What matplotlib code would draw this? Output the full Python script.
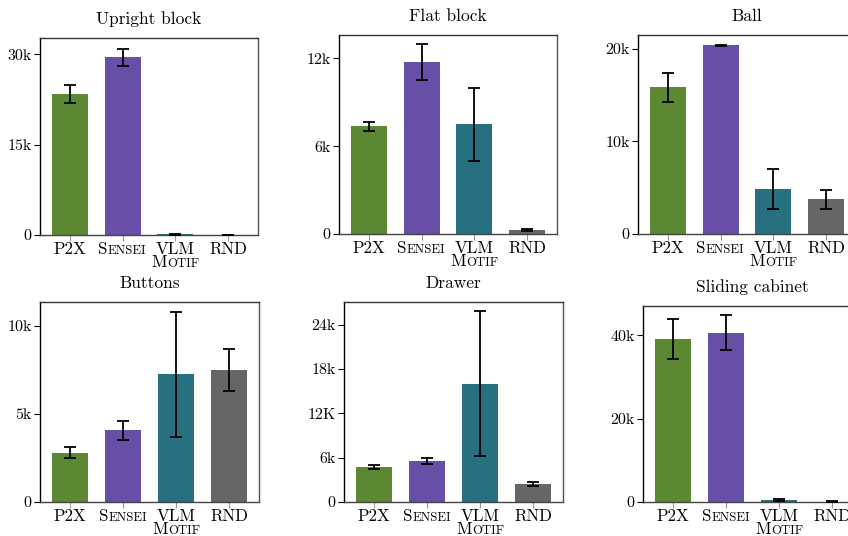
import numpy as np
import matplotlib.pyplot as plt
from matplotlib.offsetbox import TextArea, HPacker, VPacker, AnnotationBbox

plt.rcParams['font.family'] = 'serif'
plt.rcParams['font.serif'] = ['cmr10', 'DejaVu Serif']
plt.rcParams['mathtext.fontset'] = 'cm'
plt.rcParams['axes.formatter.use_mathtext'] = True

# --- data ---
titles = ["Upright block", "Flat block", "Ball", "Buttons", "Drawer", "Sliding cabinet"]
methods = ["P2X", "Sensei", "VLM Motif", "RND"]
colors = ["#5c8733", "#674ea7", "#26707f", "#666666"]

upright_mean = [23.4, 29.5, 0.12, 0.05]
upright_err = [1.55, 1.45, 0.08, 0.03]
flat_mean = [7.37, 11.74, 7.5, 0.27]
flat_err = [0.3, 1.22, 2.48, 0.07]
ball_mean = [15.84, 20.4, 4.88, 3.75]
ball_err = [1.56, 0.05, 2.14, 1.05]
buttons_mean = [2.8, 4.07, 7.24, 7.48]
buttons_err = [0.32, 0.55, 3.55, 1.18]
drawer_mean = [4.7, 5.52, 15.97, 2.4]
drawer_err = [0.3, 0.38, 9.8, 0.28]
sliding_mean = [39.1, 40.55, 0.4, 0.1]
sliding_err = [4.9, 4.2, 0.2, 0.05]

means = [upright_mean, flat_mean, ball_mean, buttons_mean, drawer_mean, sliding_mean]
errs = [upright_err, flat_err, ball_err, buttons_err, drawer_err, sliding_err]

ylims = [32.7, 13.6, 21.5, 11.35, 27.05, 47.0]
yticks = [[0, 15, 30], [0, 6, 12], [0, 10, 20], [0, 5, 10], [0, 6, 12, 18, 24], [0, 20, 40]]
yticklabels = [["0", "15k", "30k"], ["0", "6k", "12k"], ["0", "10k", "20k"],
               ["0", "5k", "10k"], ["0", "6k", "12K", "18k", "24k"], ["0", "20k", "40k"]]

# axes boxes in pixels: left, top, right, bottom
boxes = [(40, 38, 258, 235), (339, 35, 557, 234), (638, 35, 856, 234),
         (40, 302, 259, 502), (344, 302, 563, 502), (643, 306, 862, 502)]

W, H = 848, 536
fig = plt.figure(figsize=(W / 100, H / 100), dpi=100)

BIG = 12.2
SMALL = 9.2


def small_caps(word):
    # first letter full size, rest as smaller capitals
    return HPacker(children=[TextArea(word[0], textprops=dict(size=BIG)),
                             TextArea(word[1:].upper(), textprops=dict(size=SMALL))],
                   align="baseline", pad=0, sep=0)


def method_label(name):
    if name == "Sensei":
        return small_caps("Sensei")
    if name == "VLM Motif":
        return VPacker(children=[TextArea("VLM", textprops=dict(size=BIG)),
                                 small_caps("Motif")],
                       align="center", pad=0, sep=-2)
    return TextArea(name, textprops=dict(size=BIG))


for k in range(6):
    l, t, r, b = boxes[k]
    ax = fig.add_axes([l / W, 1 - b / H, (r - l) / W, (b - t) / H])
    x = np.arange(len(methods))
    ax.bar(x, means[k], width=0.68, color=colors, zorder=2)
    ax.errorbar(x, means[k], yerr=errs[k], fmt="none", ecolor="black",
                elinewidth=1.3, capsize=4, capthick=1.3, zorder=3)
    ax.set_xlim(-0.56, 3.56)
    ax.set_ylim(0, ylims[k])
    ax.set_yticks(yticks[k])
    ax.set_yticklabels(yticklabels[k], fontsize=11.5)
    ax.set_xticks(x)
    ax.set_xticklabels([])
    ax.tick_params(axis="x", length=4, color="#999999", width=0.8)
    ax.tick_params(axis="y", length=4, color="black", width=0.8, pad=2)
    ax.set_title(titles[k], fontsize=12.5, pad=10)
    ax.spines["left"].set_color("black")
    ax.spines["bottom"].set_color("#444444")
    ax.spines["top"].set_color("#333333")
    ax.spines["right"].set_color("#555555")
    for s in ax.spines.values():
        s.set_linewidth(1.0)

    for i, name in enumerate(methods):
        ab = AnnotationBbox(method_label(name), (i, 0),
                            xycoords=ax.get_xaxis_transform(),
                            xybox=(0, -5), boxcoords="offset points",
                            box_alignment=(0.5, 1), frameon=False, pad=0,
                            annotation_clip=False)
        ax.add_artist(ab)

fig.savefig("out.png", dpi=100)
